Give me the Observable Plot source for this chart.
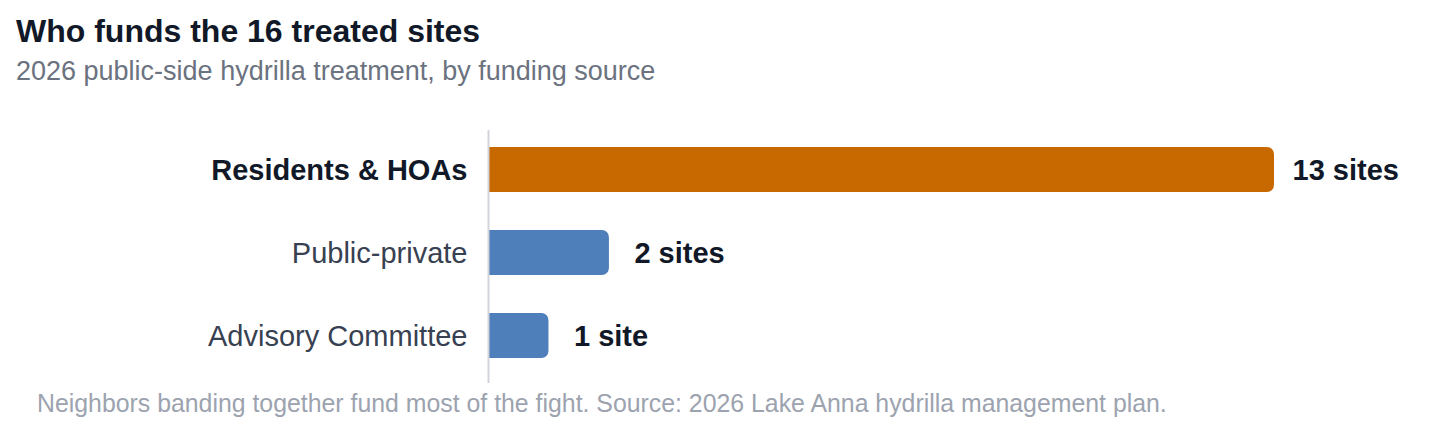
<!DOCTYPE html>
<html>
<head>
<meta charset="utf-8">
<script src="https://cdn.jsdelivr.net/npm/d3@7"></script>
<script src="https://cdn.jsdelivr.net/npm/@observablehq/plot@0.6"></script>
<style>
  html, body { margin: 0; padding: 0; background: #ffffff; }
  body { width: 1440px; height: 448px; position: relative; overflow: hidden; font-family: "Liberation Sans", Arial, sans-serif; }
  .t { position: absolute; white-space: nowrap; }
  #title { left: 16px; top: 15px; font-size: 32px; line-height: 32px; font-weight: bold; color: #111827; }
  #subtitle { left: 16px; top: 58px; font-size: 27px; line-height: 27px; color: #6b7280; }
  #caption { left: 37px; top: 391px; font-size: 24.85px; line-height: 25px; color: #9ca3af; }
  #chart { position: absolute; left: 0; top: 110px; }
</style>
</head>
<body>
<div id="title" class="t">Who funds the 16 treated sites</div>
<div id="subtitle" class="t">2026 public-side hydrilla treatment, by funding source</div>
<div id="chart"></div>
<div id="caption" class="t">Neighbors banding together fund most of the fight. Source: 2026 Lake Anna hydrilla management plan.</div>
<script>
const categories = ["Residents & HOAs", "Public-private", "Advisory Committee"];
const sites = [13, 2, 1];
const highlighted = ["Residents & HOAs"];

const data = categories.map((c, i) => ({
  category: c,
  sites: sites[i],
  label: sites[i] + (sites[i] === 1 ? " site" : " sites"),
  hi: highlighted.includes(c)
}));

const font = '"Liberation Sans", Arial, sans-serif';
const chart = Plot.plot({
  width: 1440,
  height: 300,
  marginLeft: 488,
  marginRight: 166,
  marginTop: 20,
  marginBottom: 27,
  style: { fontFamily: font, background: "transparent" },
  x: { domain: [0, 13], axis: null },
  y: { domain: categories, range: [18, 267], paddingInner: 0.458, paddingOuter: 0.229, axis: null },
  marks: [
    Plot.barX(data, { x: "sites", y: "category", fill: d => d.hi ? "#c86900" : "#4f7fba", rx2: 7 }),
    Plot.ruleX([0], { stroke: "#d1d5db", strokeWidth: 2 }),
    Plot.text(data.filter(d => d.hi), { x: 0, y: "category", text: "category", textAnchor: "end", dx: -21, dy: 1, fontSize: 29, fontWeight: "bold", fill: "#111827" }),
    Plot.text(data.filter(d => !d.hi), { x: 0, y: "category", text: "category", textAnchor: "end", dx: -21, dy: 1, fontSize: 29, fill: "#374151" }),
    Plot.text(data.filter(d => d.hi), { x: "sites", y: "category", text: "label", textAnchor: "start", dx: 18, dy: 1, fontSize: 29, fontWeight: "bold", fill: "#111827" }),
    Plot.text(data.filter(d => !d.hi), { x: "sites", y: "category", text: "label", textAnchor: "start", dx: 25, dy: 1, fontSize: 29, fontWeight: "bold", fill: "#111827" })
  ]
});
document.getElementById("chart").appendChild(chart);
</script>
</body>
</html>
